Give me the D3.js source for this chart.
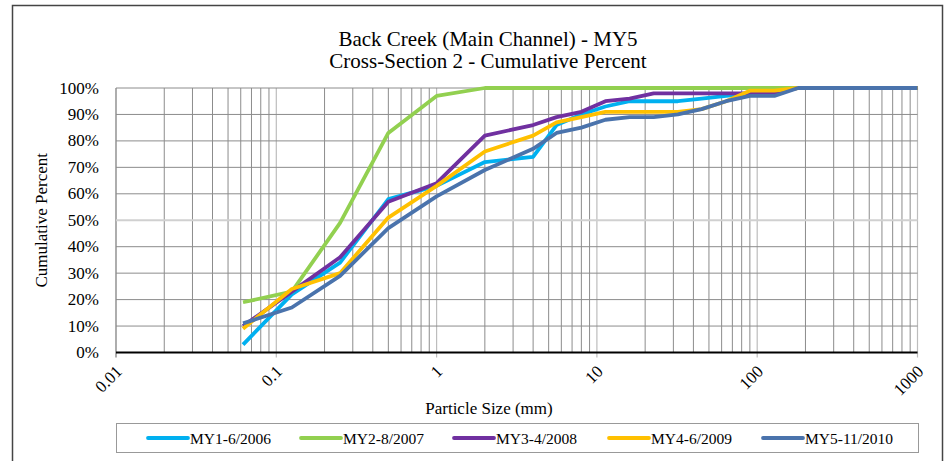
<!DOCTYPE html>
<html>
<head>
<meta charset="utf-8">
<script src="https://cdn.jsdelivr.net/npm/d3@7"></script>
<style>
  html, body { margin: 0; padding: 0; background: #fff; }
  svg { display: block; font-family: 'Liberation Serif', 'Times New Roman', serif; }
</style>
</head>
<body>
<div id="chart"></div>
<script>
// sieve sizes (mm) and cumulative percent finer per survey
const sizes = [0.062, 0.125, 0.25, 0.5, 1, 2, 4, 5.6, 8, 11.3, 16, 22.6, 32, 45, 64, 90, 128, 180, 256, 362, 512, 1024];
const my1 = [3, 22, 34, 58, 63, 72, 74, 86, 90, 93, 95, 95, 95, 96, 97, 98, 100, 100, 100, 100, 100, 100];
const my2 = [19, 23, 49, 83, 97, 100, 100, 100, 100, 100, 100, 100, 100, 100, 100, 100, 100, 100, 100, 100, 100, 100];
const my3 = [10, 23, 36, 57, 64, 82, 86, 89, 91, 95, 96, 98, 98, 98, 98, 98, 98, 100, 100, 100, 100, 100];
const my4 = [9, 24, 30, 51, 63, 76, 82, 87, 89, 91, 91, 91, 91, 92, 95, 99, 99, 100, 100, 100, 100, 100];
const my5 = [11, 17, 29, 47, 59, 69, 77, 83, 85, 88, 89, 89, 90, 92, 95, 97, 97, 100, 100, 100, 100, 100];
const seriesNames = ['MY1-6/2006', 'MY2-8/2007', 'MY3-4/2008', 'MY4-6/2009', 'MY5-11/2010'];
const seriesColors = ['#00B0F0', '#92D050', '#7030A0', '#FFC000', '#4A73AC'];
const xTicks = [0.01, 0.1, 1, 10, 100, 1000];
const yTicks = [0, 10, 20, 30, 40, 50, 60, 70, 80, 90, 100];

const W = 945, H = 461;
const pL = 116, pR = 917.5, pT = 88, pB = 352.5;

const svg = d3.select('#chart').append('svg')
  .attr('width', W).attr('height', H);

// outer frame
svg.append('rect')
  .attr('x', 12.5).attr('y', 5.5)
  .attr('width', 930).attr('height', 470)
  .attr('fill', '#fff')
  .attr('stroke', '#444').attr('stroke-width', 1.5);

const x = d3.scaleLog().domain([0.01, 1000]).range([pL, pR]);
const y = d3.scaleLinear().domain([0, 100]).range([pB, pT]);

// Title
svg.append('text')
  .attr('x', 488).attr('y', 46)
  .attr('text-anchor', 'middle')
  .style('font-size', '21px')
  .text('Back Creek (Main Channel) - MY5');
svg.append('text')
  .attr('x', 488).attr('y', 68)
  .attr('text-anchor', 'middle')
  .style('font-size', '21px')
  .text('Cross-Section 2 - Cumulative Percent');

// Grid: minor verticals
const minor = [];
for (let e = -2; e < 3; e++) {
  for (let m = 2; m <= 9; m++) minor.push(m * Math.pow(10, e));
}
const grid = svg.append('g');
grid.selectAll('.vminor')
  .data(minor)
  .join('line')
  .attr('x1', d => x(d)).attr('x2', d => x(d))
  .attr('y1', pT).attr('y2', pB)
  .attr('stroke', '#8c8c8c').attr('stroke-width', 1);

// decade verticals (lighter, extend as ticks)
grid.selectAll('.vmajor')
  .data(xTicks)
  .join('line')
  .attr('x1', d => x(d)).attr('x2', d => x(d))
  .attr('y1', pT).attr('y2', pB + 5)
  .attr('stroke', d => (d === 0.01 ? '#777' : '#bdbdbd')).attr('stroke-width', 1.2);

// horizontals
grid.selectAll('.h')
  .data(yTicks.filter(d => d > 0))
  .join('line')
  .attr('x1', pL).attr('x2', pR)
  .attr('y1', d => y(d)).attr('y2', d => y(d))
  .attr('stroke', d => (d === 50 ? '#d0d0d0' : '#8c8c8c'))
  .attr('stroke-width', d => (d === 50 ? 2 : 1));

// bottom axis line
svg.append('line')
  .attr('x1', pL).attr('x2', pR)
  .attr('y1', pB).attr('y2', pB)
  .attr('stroke', '#000').attr('stroke-width', 2);

// Y tick labels
svg.append('g').selectAll('text')
  .data(yTicks)
  .join('text')
  .attr('x', 99).attr('y', d => y(d) + 5.5)
  .attr('text-anchor', 'end')
  .style('font-size', '17px')
  .text(d => d + '%');

// X tick labels (rotated)
svg.append('g').selectAll('text')
  .data(xTicks)
  .join('text')
  .attr('transform', d => `translate(${x(d) + 7},${pB + 20}) rotate(-45)`)
  .attr('text-anchor', 'end')
  .style('font-size', '17px')
  .text(d => String(d));

// axis titles
svg.append('text')
  .attr('x', 489).attr('y', 414)
  .attr('text-anchor', 'middle')
  .style('font-size', '17px')
  .text('Particle Size (mm)');
svg.append('text')
  .attr('transform', `translate(47,${(pT + pB) / 2}) rotate(-90)`)
  .attr('text-anchor', 'middle')
  .style('font-size', '17px')
  .text('Cumulative Percent');

// series lines
const clip = svg.append('defs').append('clipPath').attr('id', 'plotclip');
clip.append('rect').attr('x', pL).attr('y', pT - 4)
  .attr('width', pR - pL).attr('height', pB - pT + 8);

const allSeries = [my1, my2, my3, my4, my5];
const line = d3.line()
  .x((d, i) => x(sizes[i]))
  .y(d => y(d));

svg.append('g').attr('clip-path', 'url(#plotclip)')
  .selectAll('path')
  .data(allSeries)
  .join('path')
  .attr('d', d => line(d))
  .attr('fill', 'none')
  .attr('stroke', (d, i) => seriesColors[i])
  .attr('stroke-width', 3.8)
  .attr('stroke-linejoin', 'round');

// legend
const lg = svg.append('g');
lg.append('rect')
  .attr('x', 116.5).attr('y', 423.5)
  .attr('width', 802).attr('height', 29)
  .attr('fill', '#fff')
  .attr('stroke', '#999').attr('stroke-width', 1);

const lgX = [148, 301, 454, 609, 763];
const items = lg.selectAll('.item')
  .data(seriesNames)
  .join('g')
  .attr('transform', (d, i) => `translate(${lgX[i]},438)`);
items.append('line')
  .attr('x1', 0).attr('x2', 40)
  .attr('stroke', (d, i) => seriesColors[i])
  .attr('stroke-width', 3.8)
  .attr('stroke-linecap', 'round');
items.append('text')
  .attr('x', 42).attr('y', 5.5)
  .style('font-size', '15.5px')
  .text(d => d);
</script>
</body>
</html>
